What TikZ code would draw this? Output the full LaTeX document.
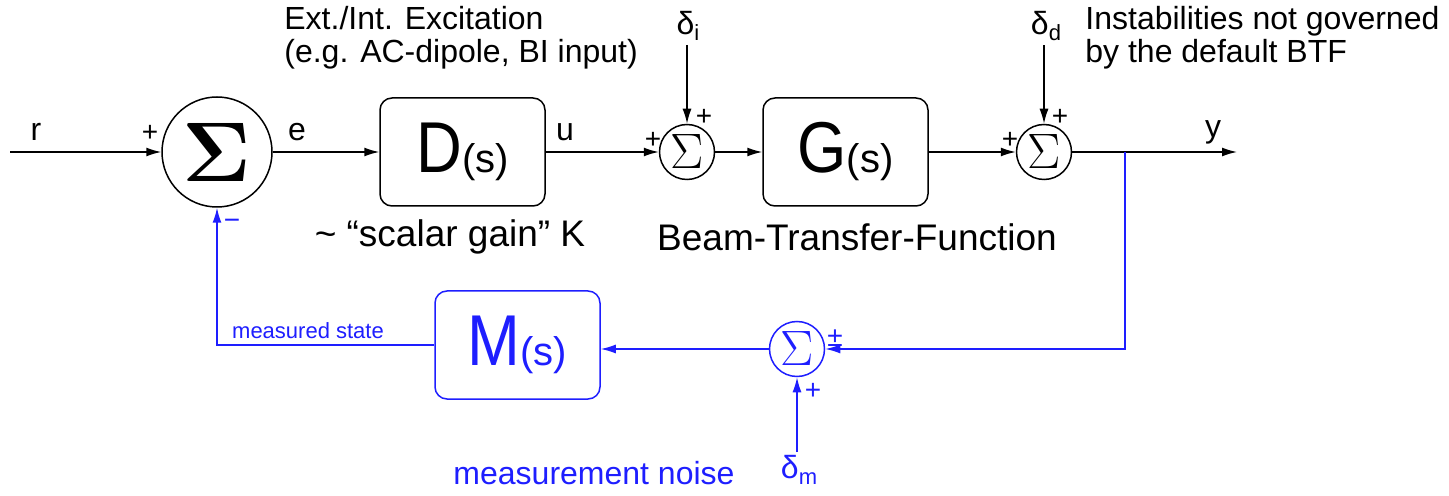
\documentclass[tikz,border=0pt]{standalone}
\usepackage[no-math]{fontspec}
\setmainfont{Liberation Sans}
\usetikzlibrary{arrows.meta}
\definecolor{fbblue}{RGB}{30,30,255}
\newcommand{\bigletter}[1]{{\scalebox{0.88}[1]{\fontsize{36}{36}\selectfont #1}\fontsize{20}{20}\selectfont(s)}}
\newcommand{\dsub}[1]{δ\raisebox{-3pt}{\fontsize{11}{11}\selectfont #1}}
\newcommand{\sumsign}{\ensuremath{\Sigma}}
\newcommand{\bigsumsign}{\scalebox{1.7}{\fontsize{24.88}{25}\selectfont$\mathbf{\Sigma}$}}
\tikzset{
  sumbig/.style={circle,draw,line width=0.75pt,minimum size=55pt,inner sep=0pt},
  sumsmall/.style={circle,draw,line width=0.75pt,minimum size=27.5pt,inner sep=0pt,font=\fontsize{23}{23}\selectfont},
  blockbox/.style={draw,rounded corners=6pt,line width=0.75pt,minimum width=82.5pt,minimum height=54pt,inner sep=0pt},
  conn/.style={line width=0.75pt,-{Latex[length=7.5pt,width=4.5pt]}},
  lbl/.style={font=\fontsize{16}{16.5}\selectfont,inner sep=0pt},
  biglbl/.style={font=\fontsize{18.5}{19}\selectfont,inner sep=0pt},
  smalllbl/.style={font=\fontsize{11}{11}\selectfont,inner sep=0pt},
  pls/.style={font=\fontsize{14}{14}\selectfont,inner sep=0pt},
}
\begin{document}
\begin{tikzpicture}[x=0.5pt,y=-0.5pt]
\useasboundingbox (0,0) rectangle (1449,496);
% forward path
\coordinate (rin) at (10,152);
\node[sumbig] (sb) at (217,152) {\bigsumsign};
\node[blockbox] (D) at (462.5,152) {\bigletter{D}};
\node[sumsmall] (si) at (687,152) {\sumsign};
\node[blockbox] (G) at (845.5,152) {\bigletter{G}};
\node[sumsmall] (sd) at (1044,152) {\sumsign};
\coordinate (br) at (1125,152);
\coordinate (yout) at (1237,152);
\draw[conn] (rin) -- (sb.west);
\draw[conn] (sb.east) -- (D.west);
\draw[conn] (D.east) -- (si.west);
\draw[conn] (si.east) -- (G.west);
\draw[conn] (G.east) -- (sd.west);
\draw[conn] (sd.east) -- (yout);
% disturbances
\node[lbl] (di) at (688,26) {\dsub{i}};
\node[lbl] (dd) at (1046,26) {\dsub{d}};
\draw[conn] (di.south -| si.north) ++(0,4) -- (si.north);
\draw[conn] (dd.south -| sd.north) ++(0,4) -- (sd.north);
% labels forward
\node[lbl] (r) at (36,132) {r};
\node[lbl] (e) at (297,132) {e};
\node[lbl] (u) at (565,132) {u};
\node[lbl] (y) at (1213,132) {y};
\node[pls] (p1) at (150,133) {+};
\node[pls] (p2) at (653,140) {+};
\node[pls] (p3) at (704,117) {+};
\node[pls] (p4) at (1010,140) {+};
\node[pls] (p5) at (1060,117) {+};
\node[lbl,anchor=west,align=left] (ext) at (284,38) {Ext./Int. Excitation\\(e.g. AC-dipole, BI input)};
\node[lbl,anchor=west,align=left] (inst) at (1085,38) {Instabilities not governed\\by the default BTF};
\node[biglbl] (kg) at (450,237) {\~{} “scalar gain” K};
\node[biglbl] (btf) at (857,237) {Beam-Transfer-Function};
% feedback path
\begin{scope}[fbblue]
\node[blockbox,draw=fbblue,text=fbblue] (M) at (517.5,345) {\bigletter{M}};
\node[sumsmall,draw=fbblue,text=fbblue] (sm) at (797,349) {\sumsign};
\node[lbl,text=fbblue] (dm) at (799,470) {\dsub{m}};
\draw[conn,fbblue] (br) |- (sm.east);
\draw[conn,fbblue] (sm.west) -- (sm.west -| M.east);
\draw[conn,fbblue] (M.west) -| (sb.south);
\draw[conn,fbblue] (dm.north -| sm.south) ++(0,-3) -- (sm.south);
\node[pls,text=fbblue] (pm1) at (835,338) {±};
\node[pls,text=fbblue] (pm2) at (813,391) {+};
\node[pls,text=fbblue] (mn) at (232,224) {−};
\node[smalllbl,text=fbblue] (ms) at (308,331) {measured state};
\node[lbl,text=fbblue] (mnoise) at (594,473) {measurement noise};
\end{scope}
\end{tikzpicture}
\end{document}
